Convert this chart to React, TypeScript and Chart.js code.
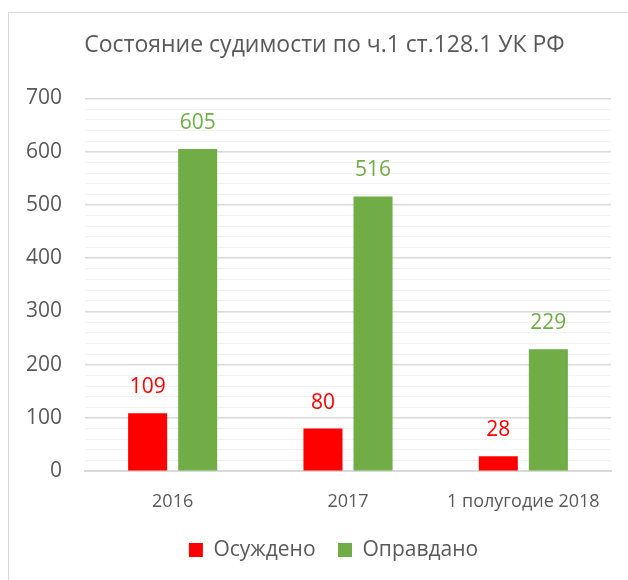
import React, { useEffect, useRef } from "react";
import { Chart, registerables } from "chart.js";

Chart.register(...registerables);

const TITLE = "Состояние судимости по ч.1 ст.128.1 УК РФ";
const categories = ["2016", "2017", "1 полугодие 2018"];
const convicted = [109, 80, 28];
const acquitted = [605, 516, 229];
const seriesNames = ["Осуждено", "Оправдано"];
const seriesColors = ["#ff0000", "#70ad47"];
const yMin = 0;
const yMax = 700;
const yMinorStep = 20;
const yMajorStep = 100;

const FONT = "'Open Sans', 'Noto Sans', sans-serif";
const TEXT = "#595959";

const valueLabels = {
  id: "valueLabels",
  afterDatasetsDraw(chart: any) {
    const ctx = chart.ctx;
    ctx.save();
    ctx.font = `21px ${FONT}`;
    ctx.textAlign = "center";
    ctx.textBaseline = "middle";
    chart.data.datasets.forEach((ds: any, i: number) => {
      const meta = chart.getDatasetMeta(i);
      ctx.fillStyle = ds.backgroundColor;
      meta.data.forEach((bar: any, j: number) => {
        ctx.fillText(String(ds.data[j]), bar.x, bar.y - 26);
      });
    });
    ctx.restore();
  },
};

const boxShift = {
  id: "boxShift",
  afterLayout(chart: any) {
    const lg = chart.legend;
    if (lg) {
      lg.left += 28;
      lg.right += 28;
    }
    const tb = chart.titleBlock;
    if (tb) {
      tb.left += 19;
      tb.right += 19;
    }
  },
};

export default function App() {
  const ref = useRef<HTMLCanvasElement | null>(null);
  useEffect(() => {
    if (!ref.current) return;
    const chart = new Chart(ref.current, {
      type: "bar",
      data: {
        labels: categories,
        datasets: [
          {
            label: seriesNames[0],
            data: convicted,
            backgroundColor: seriesColors[0],
            categoryPercentage: 0.571,
            barPercentage: 0.78,
          },
          {
            label: seriesNames[1],
            data: acquitted,
            backgroundColor: seriesColors[1],
            categoryPercentage: 0.571,
            barPercentage: 0.78,
          },
        ],
      },
      options: {
        responsive: false,
        animation: false,
        layout: { padding: { left: 0, right: 17, top: 0, bottom: 9.5 } },
        plugins: {
          title: {
            display: true,
            text: TITLE,
            color: TEXT,
            font: { family: FONT, size: 23, weight: "normal" },
            padding: { top: 31.5, bottom: 39.4 },
          },
          legend: {
            position: "bottom",
            labels: {
              color: TEXT,
              font: { family: FONT, size: 21 },
              boxWidth: 14,
              boxHeight: 14,
              padding: 22.5,
            },
          },
          tooltip: { enabled: false },
        },
        scales: {
          x: {
            grid: { display: false },
            border: { display: true, color: "#d9d9d9", width: 2 },
            ticks: {
              color: TEXT,
              font: { family: FONT, size: 18 },
              padding: 11.5,
              maxRotation: 0,
            },
            afterFit(scale: any) {
              scale.height = 45.8;
            },
          },
          y: {
            min: yMin,
            max: yMax,
            border: { display: false },
            grid: {
              drawTicks: false,
              color: (c: any) =>
                c.tick && c.tick.value % yMajorStep === 0 ? "#d9d9d9" : "#f2f2f2",
              lineWidth: (c: any) =>
                c.tick && c.tick.value % yMajorStep === 0 ? 1.5 : 1,
            },
            ticks: {
              stepSize: yMinorStep,
              autoSkip: false,
              color: TEXT,
              font: { family: FONT, size: 21 },
              padding: 23,
              callback: (v: any) => (Number(v) % yMajorStep === 0 ? String(v) : ""),
            },
            afterFit(scale: any) {
              scale.width = 85;
            },
          },
        },
      },
      plugins: [valueLabels, boxShift],
    });
    return () => chart.destroy();
  }, []);

  return (
    <div
      style={{
        position: "fixed",
        left: 0,
        top: 0,
        width: 628,
        height: 580,
        overflow: "hidden",
        background: "#ffffff",
      }}
    >
      <div
        style={{
          position: "absolute",
          left: 8,
          top: 12,
          width: 660,
          height: 620,
          border: "1px solid #d9d9d9",
          boxSizing: "border-box",
        }}
      />
      <canvas
        ref={ref}
        width={628}
        height={580}
        style={{ position: "absolute", left: 0, top: 0, width: 628, height: 580 }}
      />
    </div>
  );
}
